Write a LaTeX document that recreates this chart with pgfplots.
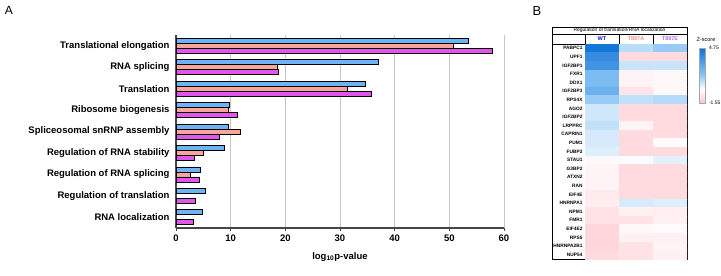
\documentclass[border=0pt]{standalone}
\usepackage{pgfplots}
\pgfplotsset{compat=1.18}
\usepackage{fontspec}
\setmainfont{Liberation Sans}
\definecolor{cblue}{RGB}{110,180,245}
\definecolor{csalmon}{RGB}{250,165,155}
\definecolor{cmag}{RGB}{225,85,235}
\definecolor{axgray}{RGB}{70,70,70}
\begin{document}
\begin{tikzpicture}[x=1pt,y=1pt]
\useasboundingbox (0,0) rectangle (721,276);
\node[font=\fontsize{12}{12}\selectfont] at (9,266) {A};
\node[font=\fontsize{13}{13}\selectfont] at (537,265) {B};
% Panel A
\begin{axis}[
  at={(176pt,48pt)}, anchor=south west,
  scale only axis, width=328pt, height=193pt,
  xmin=0, xmax=60, ymin=0.5, ymax=9.5, y dir=reverse,
  xbar, bar width=5pt,
  axis x line*=bottom, axis y line*=left,
  axis line style={axgray, line width=1.2pt},
  xtick={0,10,...,60}, xmajorgrids, grid style={gray!45, line width=0.9pt},
  tick align=outside, major tick length=3pt,
  tick style={axgray, line width=0.9pt},
  ytick={1,...,9},
  yticklabels={Translational elongation,RNA splicing,Translation,Ribosome biogenesis,Spliceosomal snRNP assembly,Regulation of RNA stability,Regulation of RNA splicing,Regulation of translation,RNA localization},
  ytick style={draw=none},
  extra y ticks={0.5,1.5,...,9.5}, extra y tick labels={},
  extra y tick style={tick style={axgray,line width=0.9pt}, major tick length=4pt, grid=none},
  /pgf/number format/assume math mode=true,
  ticklabel style={font=\fontsize{9.5}{11}\selectfont\bfseries},
  xlabel={log\textsubscript{10}p-value},
  xlabel style={font=\fontsize{9.5}{11}\selectfont\bfseries, yshift=-4pt},
  every axis plot/.append style={draw=black, line width=0.7pt},
]
\addplot[fill=cblue, bar shift=5pt] coordinates {(53.4,1) (37.1,2) (34.7,3) (9.7,4) (9.5,5) (8.8,6) (4.4,7) (5.3,8) (4.8,9)};
\addplot[fill=csalmon, bar shift=0pt] coordinates {(50.8,1) (18.5,2) (31.4,3) (9.5,4) (11.7,5) (5.0,6) (2.6,7)};
\addplot[fill=cmag, bar shift=-5pt] coordinates {(57.8,1) (18.8,2) (35.8,3) (11.3,4) (8.0,5) (3.3,6) (4.2,7) (3.5,8) (3.1,9)};
\end{axis}
% Panel B table frame
\draw[black, line width=0.6pt] (552,17) rectangle (687,249);
\draw[black, line width=0.5pt] (552,242) -- (687,242);
\draw[black, line width=0.5pt] (552,232) -- (687,232);
\draw[black, line width=0.5pt] (585,17) -- (585,242);
\draw[black, line width=0.5pt] (619,232) -- (619,242);
\draw[black, line width=0.5pt] (653,232) -- (653,242);
\node[font=\fontsize{5}{5}\selectfont] at (619.5,245.5) {Regulation of translation/RNA localization};
\node[font=\fontsize{5.5}{5.5}\selectfont\bfseries, text={rgb,255:red,20;green,20;blue,210}] at (602,237) {WT};
\node[font=\fontsize{5.5}{5.5}\selectfont\bfseries, text={rgb,255:red,245;green,140;blue,140}] at (636,237) {T897A};
\node[font=\fontsize{5.5}{5.5}\selectfont\bfseries, text={rgb,255:red,170;green,110;blue,225}] at (670,237) {T897E};
\node[font=\fontsize{5.5}{5.5}\selectfont] at (706,236) {Z-score};
\begin{axis}[
  at={(585pt,17pt)}, anchor=south west,
  scale only axis, width=102pt, height=215pt,
  xmin=-0.5, xmax=2.5, ymin=-0.5, ymax=24.5, y dir=reverse,
  axis line style={draw=none},
  xtick=\empty,
  ytick={0,...,24},
  yticklabels={PABPC1,UPF1,IGF2BP1,FXR1,DDX1,IGF2BP3,RPS4X,AGO2,IGF2BP2,LRPPRC,CAPRIN1,PUM1,FUBP2,STAU1,G3BP2,ATXN2,RAN,EIF4E,HNRNPA1,NPM1,FMR1,EIF4E2,RPS5,HNRNPA2B1,NUP54},
  yticklabel style={font=\fontsize{4.8}{5}\selectfont\bfseries, xshift=1pt},
  major tick length=0pt,
  colormap={zs}{rgb255(0pt)=(255,198,204); rgb255(155pt)=(255,255,255); rgb255(330pt)=(135,195,245); rgb255(630pt)=(15,115,215)},
  point meta min=-1.55, point meta max=4.75,
  colorbar,
  colorbar style={at={(parent axis.north east)}, anchor=north west, xshift=4pt, yshift=-4pt,
    width=6pt, height=55pt, ytick={-1.55,4.75}, yticklabels={-1.55,4.75},
    yticklabel style={font=\fontsize{5}{5}\selectfont},
    /pgf/number format/assume math mode=true,
    major tick length=0pt, axis line style={gray!70, line width=0.4pt}},
]
\addplot[matrix plot*, mesh/cols=3, point meta=explicit] table[meta=z] {
x y z
0 0 4.6
1 0 1.0
2 0 1.5
0 1 3.8
1 1 -1.0
2 1 -1.0
0 2 3.5
1 2 0.8
2 2 0.8
0 3 2.0
1 3 -0.3
2 3 -0.2
0 4 2.0
1 4 -0.3
2 4 -0.2
0 5 2.4
1 5 -0.7
2 5 -0.2
0 6 1.5
1 6 0.9
2 6 1.1
0 7 0.7
1 7 -1.0
2 7 -1.0
0 8 0.7
1 8 -1.0
2 8 -1.0
0 9 0.9
1 9 -0.3
2 9 -1.0
0 10 0.6
1 10 -1.0
2 10 -1.0
0 11 0.6
1 11 -1.0
2 11 -0.1
0 12 0.5
1 12 -1.0
2 12 -1.0
0 13 -0.2
1 13 0.1
2 13 0.4
0 14 -0.3
1 14 -1.0
2 14 -1.0
0 15 -0.3
1 15 -1.0
2 15 -1.0
0 16 -0.3
1 16 -1.0
2 16 -1.0
0 17 -0.6
1 17 -1.0
2 17 -1.0
0 18 -0.5
1 18 0.6
2 18 0.5
0 19 -0.8
1 19 -0.4
2 19 -0.5
0 20 -0.8
1 20 -0.8
2 20 -0.4
0 21 -1.1
1 21 -0.2
2 21 -0.1
0 22 -1.1
1 22 -0.4
2 22 -0.4
0 23 -1.1
1 23 -0.8
2 23 -0.3
0 24 -1.0
1 24 -0.8
2 24 -0.4
};
\end{axis}
\end{tikzpicture}
\end{document}
